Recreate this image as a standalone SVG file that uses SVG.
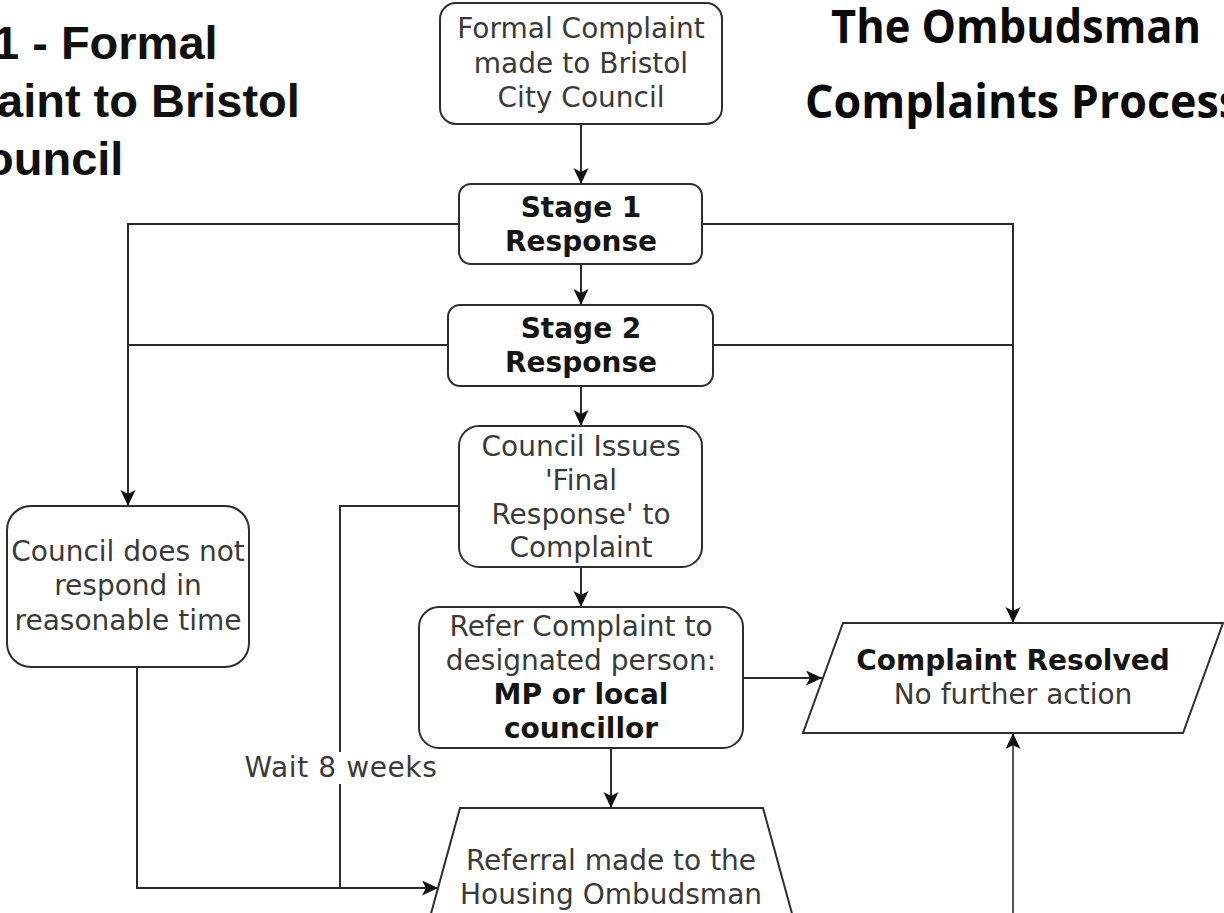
<svg xmlns="http://www.w3.org/2000/svg" width="1224" height="913" viewBox="0 0 1224 913">
<defs>
<marker id="arr" markerUnits="userSpaceOnUse" markerWidth="18" markerHeight="16" refX="16" refY="7.5" orient="auto">
<path d="M0,0 L16,7.5 L0,15 L4,7.5 z" fill="#111"/>
</marker>
<style>
.box{fill:#fff;stroke:#2e2e2e;stroke-width:2}
.t{font-family:"DejaVu Sans",Verdana,sans-serif;font-size:28px;fill:#3a3a3a;text-anchor:middle}
.b{font-family:"DejaVu Sans",Verdana,sans-serif;font-size:28px;font-weight:bold;fill:#151515;text-anchor:middle}
.c{fill:none;stroke:#2a2a2a;stroke-width:2}
.ca{fill:none;stroke:#2a2a2a;stroke-width:2;marker-end:url(#arr)}
.h1{font-family:"Liberation Sans",Arial,sans-serif;font-size:47px;font-weight:bold;fill:#111}
.h2{font-family:"Open Sans","Noto Sans",sans-serif;font-size:46px;font-weight:bold;fill:#0a0a0a}
</style>
</defs>
<rect width="1224" height="913" fill="#fff"/>

<g id="title-left">
<text class="h1" x="-7" y="59">1 - Formal</text>
<text class="h1" x="-3" y="117">aint to Bristol</text>
<text class="h1" x="-15" y="175">ouncil</text>
</g>
<g id="title-right">
<text class="h2" x="831" y="43" textLength="370" lengthAdjust="spacingAndGlyphs">The Ombudsman</text>
<text class="h2" x="805" y="118" textLength="436" lengthAdjust="spacingAndGlyphs">Complaints Process</text>
</g>

<g id="connectors">
<path class="ca" d="M581,124 V184"/>
<path class="ca" d="M581,264 V305"/>
<path class="ca" d="M581,386 V426"/>
<path class="ca" d="M581,567 V607"/>
<path class="ca" d="M459,224 H128 V506"/>
<path class="c" d="M448,345 H128"/>
<path class="ca" d="M702,224 H1013 V623"/>
<path class="c" d="M713,345 H1013"/>
<path class="c" d="M459,506 H340 V888"/>
<path class="ca" d="M137,667 V888 H438"/>
<path class="ca" d="M743,678 H822"/>
<path class="ca" d="M611,748 V808"/>
<path class="ca" d="M1013,913 V733" style="stroke:#555"/>
<rect x="244" y="752" width="204" height="32" fill="#fff"/>
<text class="t" x="341" y="777" style="letter-spacing:0.6px">Wait 8 weeks</text>
</g>

<g id="n-formal">
<rect class="box" x="440" y="3" width="282" height="121" rx="16"/>
<text class="t" x="581" y="38">Formal Complaint</text>
<text class="t" x="581" y="73">made to Bristol</text>
<text class="t" x="581" y="107">City Council</text>
</g>
<g id="n-stage1">
<rect class="box" x="459" y="184" width="243" height="80" rx="12"/>
<text class="b" x="581" y="217">Stage 1</text>
<text class="b" x="581" y="251">Response</text>
</g>
<g id="n-stage2">
<rect class="box" x="448" y="305" width="265" height="81" rx="12"/>
<text class="b" x="581" y="338">Stage 2</text>
<text class="b" x="581" y="372">Response</text>
</g>
<g id="n-final">
<rect class="box" x="459" y="426" width="243" height="141" rx="20"/>
<text class="t" x="581" y="456">Council Issues</text>
<text class="t" x="581" y="490">'Final</text>
<text class="t" x="581" y="524">Response' to</text>
<text class="t" x="581" y="557">Complaint</text>
</g>
<g id="n-noresponse">
<rect class="box" x="7" y="506" width="242" height="161" rx="24"/>
<text class="t" x="128" y="561">Council does not</text>
<text class="t" x="128" y="595">respond in</text>
<text class="t" x="128" y="630">reasonable time</text>
</g>
<g id="n-refer">
<rect class="box" x="419" y="607" width="324" height="141" rx="20"/>
<text class="t" x="581" y="636">Refer Complaint to</text>
<text class="t" x="581" y="670">designated person:</text>
<text class="b" x="581" y="704">MP or local</text>
<text class="b" x="581" y="738">councillor</text>
</g>
<g id="n-resolved">
<polygon class="box" points="843,623 1223,623 1183,733 803,733"/>
<text class="b" x="1013" y="670">Complaint Resolved</text>
<text class="t" x="1013" y="704">No further action</text>
</g>
<g id="n-referral">
<polygon class="box" points="460,808 763,808 802,950 421,950"/>
<text class="t" x="611" y="870">Referral made to the</text>
<text class="t" x="611" y="904">Housing Ombudsman</text>
</g>
</svg>
